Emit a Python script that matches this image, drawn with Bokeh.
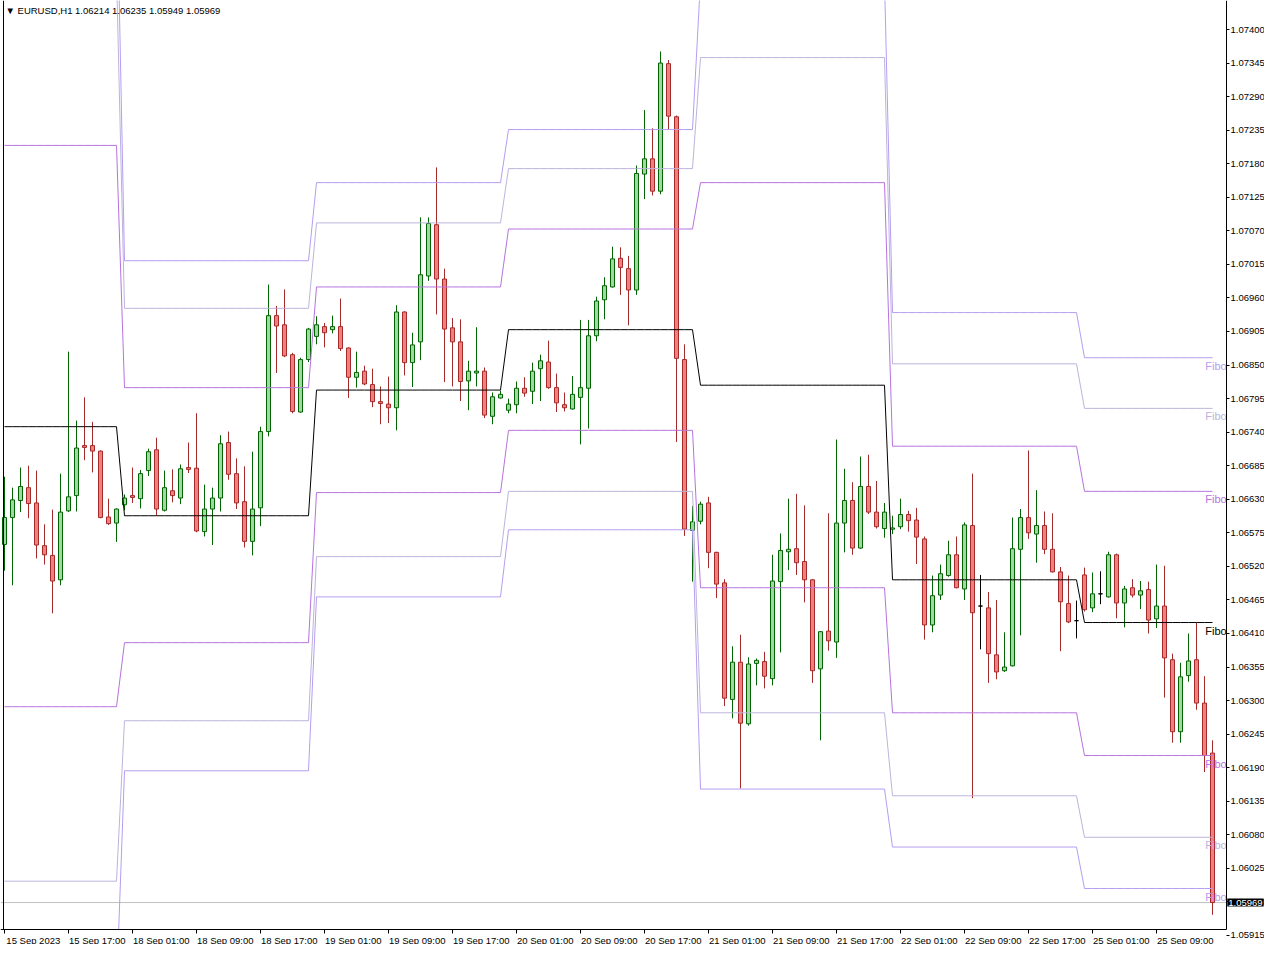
import numpy as np
from bokeh.plotting import figure
from bokeh.models import Range1d, LinearAxis, FixedTicker, PrintfTickFormatter, Label, Span, ColumnDataSource
from bokeh.embed import file_html
from bokeh.resources import INLINE
from bokeh.core.properties import value

# ---------------- data (EURUSD H1, 15 Sep 2023 09:00 .. 25 Sep 2023 16:00) ----------------
opens = [
    1.06556, 1.06600, 1.06628, 1.06649, 1.06624, 1.06554, 1.06538, 1.06498, 1.06611, 1.06636,
    1.06718, 1.06718, 1.06709, 1.06601, 1.06591, 1.06621, 1.06636, 1.06631, 1.06677, 1.06711,
    1.06612, 1.06644, 1.06632, 1.06682, 1.06681, 1.06577, 1.06614, 1.06632, 1.06723, 1.06672,
    1.06626, 1.06561, 1.06616, 1.06741, 1.06931, 1.06916, 1.06867, 1.06773, 1.06859, 1.06897,
    1.06913, 1.06908, 1.06913, 1.06878, 1.06830, 1.06840, 1.06818, 1.06790, 1.06786, 1.06780,
    1.06937, 1.06854, 1.06888, 1.06996, 1.07080, 1.06991, 1.06911, 1.06888, 1.06824, 1.06837,
    1.06840, 1.06766, 1.06796, 1.06776, 1.06785, 1.06812, 1.06807, 1.06844, 1.06855, 1.06813,
    1.06785, 1.06778, 1.06797, 1.06812, 1.06898, 1.06957, 1.06978, 1.07025, 1.07008, 1.06973,
    1.07163, 1.07188, 1.07135, 1.07344, 1.07257, 1.06859, 1.06579, 1.06594, 1.06624, 1.06543,
    1.06493, 1.06302, 1.06363, 1.06262, 1.06361, 1.06364, 1.06336, 1.06495, 1.06544, 1.06549,
    1.06528, 1.06498, 1.06352, 1.06414, 1.06396, 1.06591, 1.06628, 1.06550, 1.06651, 1.06609,
    1.06582, 1.06581, 1.06585, 1.06605, 1.06596, 1.06565, 1.06424, 1.06473, 1.06505, 1.06539,
    1.06483, 1.06587, 1.06455, 1.06452, 1.06375, 1.06349, 1.06357, 1.06548, 1.06600, 1.06573,
    1.06587, 1.06548, 1.06511, 1.06459, 1.06431, 1.06506, 1.06452, 1.06475, 1.06470, 1.06539,
    1.06460, 1.06485, 1.06473, 1.06482, 1.06434, 1.06455, 1.06367, 1.06249, 1.06341, 1.06367,
    1.06296, 1.06214,
]
highs = [
    1.06667, 1.06649, 1.06682, 1.06685, 1.06677, 1.06589, 1.06613, 1.06672, 1.06872, 1.06759,
    1.06797, 1.06757, 1.06710, 1.06631, 1.06615, 1.06638, 1.06682, 1.06678, 1.06713, 1.06731,
    1.06677, 1.06679, 1.06687, 1.06723, 1.06771, 1.06654, 1.06649, 1.06735, 1.06741, 1.06697,
    1.06684, 1.06708, 1.06749, 1.06982, 1.06947, 1.06974, 1.06870, 1.06862, 1.06911, 1.06930,
    1.06919, 1.06931, 1.06959, 1.06879, 1.06872, 1.06849, 1.06844, 1.06815, 1.06831, 1.06948,
    1.06938, 1.06903, 1.07092, 1.07092, 1.07174, 1.07008, 1.06927, 1.06925, 1.06857, 1.06912,
    1.06846, 1.06805, 1.06808, 1.06795, 1.06823, 1.06830, 1.06854, 1.06867, 1.06890, 1.06836,
    1.06805, 1.06832, 1.06924, 1.06924, 1.06962, 1.06994, 1.07044, 1.07043, 1.07029, 1.07177,
    1.07268, 1.07238, 1.07364, 1.07350, 1.07259, 1.06884, 1.06619, 1.06626, 1.06634, 1.06544,
    1.06499, 1.06389, 1.06408, 1.06371, 1.06369, 1.06380, 1.06539, 1.06574, 1.06631, 1.06639,
    1.06620, 1.06499, 1.06414, 1.06607, 1.06728, 1.06680, 1.06658, 1.06700, 1.06703, 1.06660,
    1.06624, 1.06603, 1.06631, 1.06611, 1.06616, 1.06569, 1.06505, 1.06523, 1.06562, 1.06569,
    1.06592, 1.06672, 1.06506, 1.06478, 1.06465, 1.06412, 1.06600, 1.06614, 1.06710, 1.06645,
    1.06610, 1.06607, 1.06519, 1.06505, 1.06464, 1.06518, 1.06510, 1.06512, 1.06544, 1.06541,
    1.06488, 1.06499, 1.06496, 1.06495, 1.06523, 1.06521, 1.06377, 1.06362, 1.06410, 1.06428,
    1.06340, 1.06235,
]
lows = [
    1.06513, 1.06489, 1.06609, 1.06599, 1.06533, 1.06523, 1.06443, 1.06489, 1.06609, 1.06610,
    1.06694, 1.06674, 1.06599, 1.06588, 1.06560, 1.06612, 1.06624, 1.06615, 1.06668, 1.06603,
    1.06610, 1.06625, 1.06622, 1.06673, 1.06576, 1.06569, 1.06555, 1.06610, 1.06662, 1.06614,
    1.06551, 1.06538, 1.06586, 1.06733, 1.06837, 1.06863, 1.06771, 1.06772, 1.06855, 1.06884,
    1.06879, 1.06902, 1.06873, 1.06796, 1.06813, 1.06817, 1.06781, 1.06753, 1.06755, 1.06743,
    1.06833, 1.06814, 1.06858, 1.06988, 1.06933, 1.06822, 1.06815, 1.06791, 1.06776, 1.06815,
    1.06763, 1.06753, 1.06795, 1.06771, 1.06771, 1.06798, 1.06786, 1.06791, 1.06811, 1.06773,
    1.06774, 1.06777, 1.06720, 1.06746, 1.06889, 1.06925, 1.06977, 1.06965, 1.06915, 1.06965,
    1.07122, 1.07128, 1.07130, 1.07236, 1.06724, 1.06570, 1.06495, 1.06589, 1.06517, 1.06468,
    1.06291, 1.06271, 1.06156, 1.06259, 1.06325, 1.06320, 1.06325, 1.06379, 1.06514, 1.06506,
    1.06461, 1.06329, 1.06235, 1.06382, 1.06370, 1.06543, 1.06539, 1.06549, 1.06606, 1.06582,
    1.06567, 1.06573, 1.06581, 1.06577, 1.06524, 1.06400, 1.06412, 1.06465, 1.06503, 1.06484,
    1.06465, 1.06140, 1.06384, 1.06329, 1.06335, 1.06347, 1.06356, 1.06407, 1.06565, 1.06526,
    1.06540, 1.06510, 1.06381, 1.06427, 1.06402, 1.06446, 1.06445, 1.06458, 1.06469, 1.06435,
    1.06420, 1.06469, 1.06450, 1.06410, 1.06419, 1.06305, 1.06231, 1.06231, 1.06331, 1.06285,
    1.06183, 1.05949,
]
closes = [
    1.06600, 1.06629, 1.06651, 1.06623, 1.06555, 1.06539, 1.06496, 1.06609, 1.06634, 1.06714,
    1.06715, 1.06709, 1.06600, 1.06590, 1.06614, 1.06632, 1.06633, 1.06672, 1.06708, 1.06614,
    1.06649, 1.06636, 1.06680, 1.06679, 1.06578, 1.06614, 1.06632, 1.06721, 1.06671, 1.06624,
    1.06561, 1.06614, 1.06741, 1.06931, 1.06914, 1.06865, 1.06774, 1.06859, 1.06909, 1.06916,
    1.06903, 1.06913, 1.06877, 1.06830, 1.06838, 1.06819, 1.06790, 1.06787, 1.06780, 1.06937,
    1.06854, 1.06883, 1.06998, 1.07082, 1.06991, 1.06909, 1.06888, 1.06823, 1.06840, 1.06840,
    1.06768, 1.06798, 1.06802, 1.06786, 1.06812, 1.06804, 1.06840, 1.06857, 1.06813, 1.06788,
    1.06780, 1.06802, 1.06813, 1.06898, 1.06955, 1.06980, 1.07024, 1.07010, 1.06973, 1.07164,
    1.07188, 1.07135, 1.07345, 1.07258, 1.06861, 1.06581, 1.06593, 1.06622, 1.06543, 1.06491,
    1.06304, 1.06363, 1.06263, 1.06360, 1.06366, 1.06340, 1.06496, 1.06546, 1.06548, 1.06526,
    1.06498, 1.06349, 1.06413, 1.06398, 1.06591, 1.06628, 1.06550, 1.06651, 1.06609, 1.06585,
    1.06609, 1.06583, 1.06605, 1.06595, 1.06568, 1.06424, 1.06472, 1.06508, 1.06539, 1.06485,
    1.06588, 1.06444, 1.06455, 1.06377, 1.06347, 1.06355, 1.06549, 1.06600, 1.06575, 1.06587,
    1.06548, 1.06511, 1.06462, 1.06429, 1.06431, 1.06449, 1.06475, 1.06475, 1.06539, 1.06460,
    1.06483, 1.06473, 1.06480, 1.06432, 1.06455, 1.06370, 1.06249, 1.06339, 1.06365, 1.06296,
    1.06210, 1.05969,
]

# daily Fibonacci pivot levels (15, 18, 19, 20, 21, 22, 25 Sep) and bars per day
day_lengths = [15, 24, 24, 24, 24, 24, 17]
pivot_R3 = [1.07670, 1.07021, 1.07149, 1.07236, 1.07480, 1.06936, 1.06862]
pivot_R2 = [1.07493, 1.06943, 1.07083, 1.07172, 1.07354, 1.06852, 1.06779]
pivot_R1 = [1.07210, 1.06813, 1.06978, 1.07073, 1.07149, 1.06717, 1.06643]
pivot_P = [1.06749, 1.06603, 1.06809, 1.06908, 1.06817, 1.06498, 1.06428]
pivot_S1 = [1.06290, 1.06395, 1.06641, 1.06743, 1.06485, 1.06280, 1.06210]
pivot_S2 = [1.06004, 1.06267, 1.06536, 1.06643, 1.06280, 1.06144, 1.06076]
pivot_S3 = [1.05827, 1.06185, 1.06470, 1.06580, 1.06155, 1.06060, 1.05992]
pivot_names = ["Fibo R3", "Fibo R2", "Fibo R1", "Fibo P", "Fibo S1", "Fibo S2", "Fibo S3"]

date_tick_bars = [0, 8, 16, 24, 32, 40, 48, 56, 64, 72, 80, 88, 96, 104, 112, 120, 128, 136, 144]
date_labels = ["15 Sep 2023", "15 Sep 17:00", "18 Sep 01:00", "18 Sep 09:00", "18 Sep 17:00",
               "19 Sep 01:00", "19 Sep 09:00", "19 Sep 17:00", "20 Sep 01:00", "20 Sep 09:00",
               "20 Sep 17:00", "21 Sep 01:00", "21 Sep 09:00", "21 Sep 17:00", "22 Sep 01:00",
               "22 Sep 09:00", "22 Sep 17:00", "25 Sep 01:00", "25 Sep 09:00"]
price_ticks = [1.05915, 1.05970, 1.06025, 1.06080, 1.06135, 1.06190, 1.06245, 1.06300, 1.06355,
               1.06410, 1.06465, 1.06520, 1.06575, 1.06630, 1.06685, 1.06740, 1.06795, 1.06850,
               1.06905, 1.06960, 1.07015, 1.07070, 1.07125, 1.07180, 1.07235, 1.07290, 1.07345,
               1.07400]
symbol_title = "\u25BC EURUSD,H1  1.06214 1.06235 1.05949 1.05969"
bid_price = 1.05969

# ---------------- layout ----------------
FONT = "Liberation Sans"
FS = "9.5px"
W, H = 1264, 944
BAR_PX = 8.0            # screen pixels per hourly bar
BAR0_PX = 4.0           # screen x of the first bar
PRICE_REF, PRICE_REF_PX, PX_PER_PRICE = 1.07400, 29.0, 61010.0


def px_to_x(px):
    return (px - BAR0_PX) / BAR_PX


def px_to_price(py):
    return PRICE_REF - (py - PRICE_REF_PX) / PX_PER_PRICE


X0, X1 = px_to_x(0), px_to_x(W)
Y0, Y1 = px_to_price(H), px_to_price(0)
AXIS_X = px_to_x(1226)      # price scale line
AXIS_Y = px_to_price(929)   # time scale line
LEFT_X = px_to_x(2.5)       # left frame line
LABEL_SHIFT = 3.6           # date labels start at their tick

BULL_LINE, BULL_FILL = "#006400", "#a3d6a3"
BEAR_LINE, BEAR_FILL = "#a52a2a", "#f08080"
C_P = "#000000"
C_1 = "#b673e0"
C_2 = "#bcb4dc"
C_3 = "#b59df2"

p = figure(width=W, height=H, output_backend="svg", toolbar_location=None,
           x_range=Range1d(X0, X1), y_range=Range1d(Y0, Y1),
           x_axis_location=None, y_axis_location=None,
           min_border=0, min_border_left=0, min_border_top=0,
           min_border_right=0, min_border_bottom=0,
           background_fill_color="white", border_fill_color="white")
p.outline_line_color = None
p.grid.visible = False

# bid line (under everything)
p.add_layout(Span(location=bid_price, dimension="width", line_color="#c0c0c0",
                  line_width=1, level="underlay"))

# ---------------- candles ----------------
o = np.array(opens)
hi = np.array(highs)
lo = np.array(lows)
c = np.array(closes)
bars = np.arange(len(o))
line_col = np.where(c > o, BULL_LINE, np.where(c < o, BEAR_LINE, "#000000"))
fill_col = np.where(c > o, BULL_FILL, np.where(c < o, BEAR_FILL, "#000000"))
src = ColumnDataSource(dict(x=bars, o=o, h=hi, l=lo, c=c,
                            top=np.maximum(o, c), bot=np.minimum(o, c),
                            lc=line_col, fc=fill_col))
p.segment(x0="x", y0="l", x1="x", y1="h", source=src, line_color="lc", line_width=1)
p.vbar(x="x", width=0.5, top="top", bottom="bot", source=src,
       fill_color="fc", line_color="lc", line_width=1)

# ---------------- pivot lines ----------------
levels = [pivot_R3, pivot_R2, pivot_R1, pivot_P, pivot_S1, pivot_S2, pivot_S3]
colors = [C_3, C_2, C_1, C_P, C_1, C_2, C_3]
for lev, col in zip(levels, colors):
    p.line(bars, np.repeat(lev, day_lengths), line_color=col, line_width=1)

lab_src = ColumnDataSource(dict(x=[bars[-1] - 0.9] * 7, y=[lv[-1] for lv in levels],
                                t=pivot_names, col=colors))
p.text(x="x", y="y", text="t", source=lab_src, text_color="col",
       text_font=value(FONT), text_font_size="11px", text_baseline="top", y_offset=2)

# white scale areas (price scale on the right, time scale at the bottom)
p.quad(left=[AXIS_X, X0], right=[X1, X1], bottom=[Y0, Y0], top=[Y1, AXIS_Y],
       fill_color="white", line_color=None)

# ---------------- axes ----------------
left_line = LinearAxis(fixed_location=LEFT_X, ticker=FixedTicker(ticks=[]), bounds=(AXIS_Y, Y1),
                       axis_line_color="black", major_tick_line_color=None, minor_tick_line_color=None)
p.add_layout(left_line, "left")

xaxis = LinearAxis(fixed_location=AXIS_Y, bounds=(X0, AXIS_X),
                   ticker=FixedTicker(ticks=[b + LABEL_SHIFT for b in date_tick_bars],
                                      minor_ticks=date_tick_bars),
                   major_label_overrides={b + LABEL_SHIFT: lab for b, lab in zip(date_tick_bars, date_labels)},
                   major_tick_line_color=None, major_tick_out=4, major_tick_in=0,
                   minor_tick_line_color="black", minor_tick_out=4, minor_tick_in=0,
                   major_label_standoff=1, major_label_text_font=FONT,
                   major_label_text_font_size=FS, major_label_text_color="black",
                   axis_line_color="black")
p.add_layout(xaxis, "below")

yaxis = LinearAxis(fixed_location=AXIS_X, bounds=(AXIS_Y, Y1),
                   ticker=FixedTicker(ticks=price_ticks), formatter=PrintfTickFormatter(format="%.5f"),
                   major_tick_out=3, major_tick_in=0, minor_tick_line_color=None,
                   major_label_standoff=1, major_label_text_font=FONT,
                   major_label_text_font_size=FS, major_label_text_color="black",
                   axis_line_color="black", major_tick_line_color="black")
p.add_layout(yaxis, "right")

# title
p.add_layout(Label(x=px_to_x(5), y=px_to_price(10), text=symbol_title, text_font=FONT,
                   text_font_size=FS, text_baseline="middle", text_color="black"))

# current price box on the price scale
price_box = Label(x=AXIS_X + 0.1, y=bid_price, text="%.5f" % bid_price, text_align="left",
                  text_baseline="middle", text_font=FONT, text_font_size=FS,
                  text_color="white", background_fill_color="black")
try:
    price_box.padding = 1
except Exception:
    pass
p.add_layout(price_box)

open("out.html", "w").write(file_html(p, INLINE))
